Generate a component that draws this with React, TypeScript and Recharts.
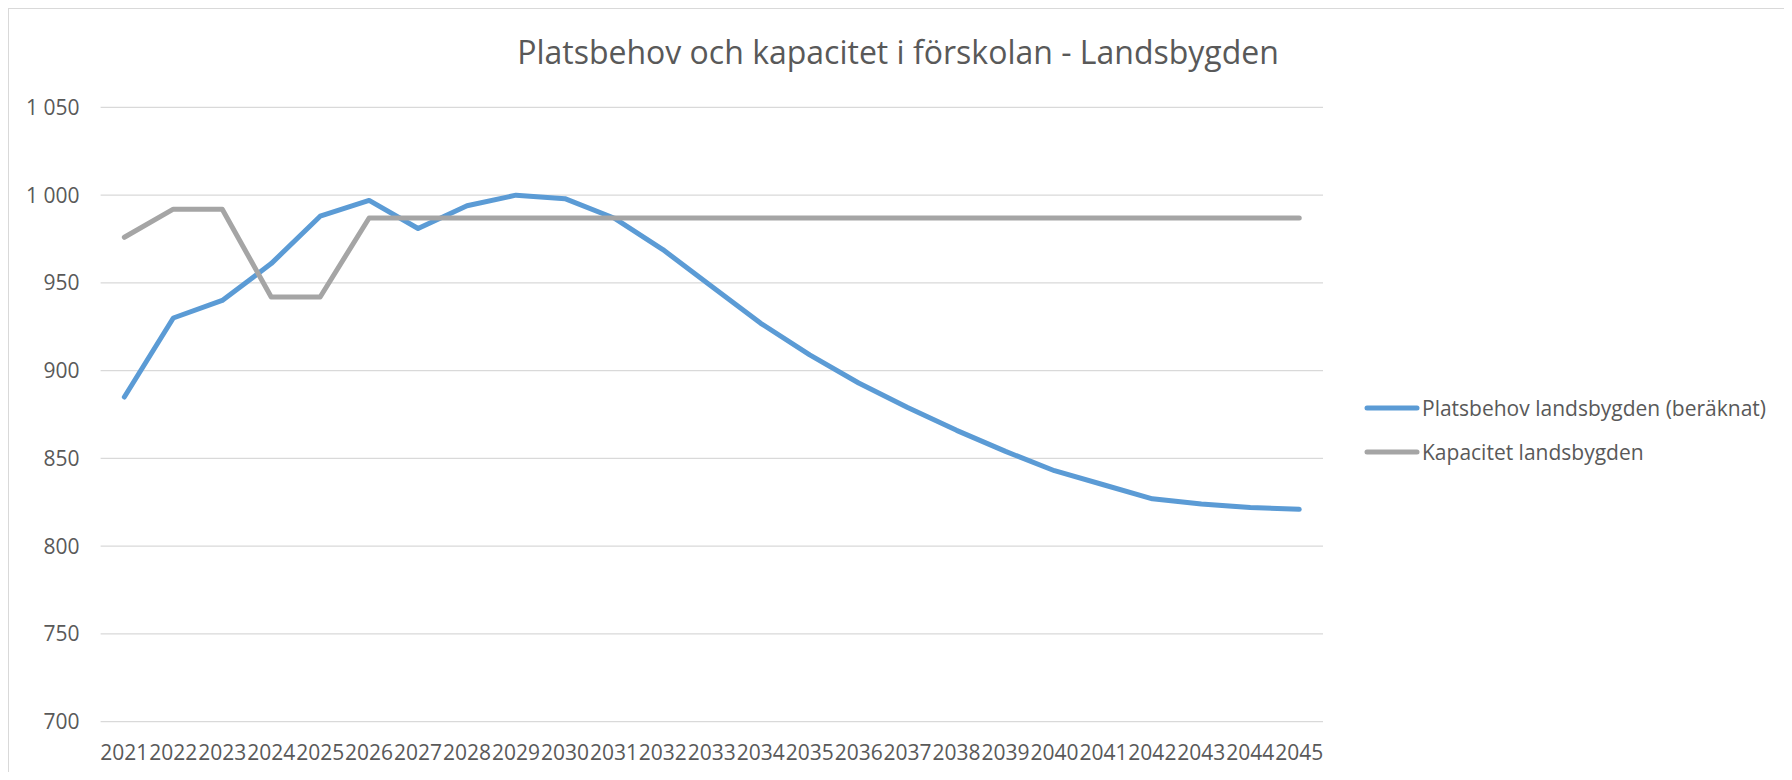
import React from 'react';
import { LineChart, Line, XAxis, YAxis, CartesianGrid, Legend } from 'recharts';

// years on the category axis
const years = [
  '2021', '2022', '2023', '2024', '2025', '2026', '2027', '2028', '2029', '2030',
  '2031', '2032', '2033', '2034', '2035', '2036', '2037', '2038', '2039', '2040',
  '2041', '2042', '2043', '2044', '2045',
];

// Platsbehov landsbygden (beräknat)
const platsbehov = [
  885, 930, 940, 961, 988, 997, 981, 994, 1000, 998,
  987, 969, 948, 927, 909, 893, 879, 866, 854, 843,
  835, 827, 824, 822, 821,
];

// Kapacitet landsbygden
const kapacitet = [
  976, 992, 992, 942, 942, 987, 987, 987, 987, 987,
  987, 987, 987, 987, 987, 987, 987, 987, 987, 987,
  987, 987, 987, 987, 987,
];

const yTicks = [700, 750, 800, 850, 900, 950, 1000, 1050];

const seriesNames = ['Platsbehov landsbygden (beräknat)', 'Kapacitet landsbygden'];

const data = years.map((year, i) => ({
  year,
  platsbehov: platsbehov[i],
  kapacitet: kapacitet[i],
}));

const FONT = "'Open Sans', 'DejaVu Sans', sans-serif";
const TEXT = '#595959';

// swedish style thousands: "1 050"
const formatY = (v: number) =>
  v >= 1000 ? `${Math.floor(v / 1000)} ${String(v % 1000).padStart(3, '0')}` : String(v);

const renderLegend = (props: any) => {
  const items = [...(props.payload || [])].sort(
    (a: any, b: any) => seriesNames.indexOf(a.value) - seriesNames.indexOf(b.value)
  );
  return (
    <div>
      {items.map((item: any) => (
        <div
          key={item.value}
          style={{ display: 'flex', alignItems: 'center', height: 43.4 }}
        >
          <svg width={56} height={10} style={{ marginRight: 2 }}>
            <line
              x1={3}
              y1={5}
              x2={53}
              y2={5}
              stroke={item.color}
              strokeWidth={5}
              strokeLinecap="round"
            />
          </svg>
          <span style={{ fontFamily: FONT, fontSize: 21, color: TEXT, whiteSpace: 'nowrap' }}>
            {item.value}
          </span>
        </div>
      ))}
    </div>
  );
};

export default function App() {
  return (
    <div
      style={{
        position: 'relative',
        width: 1778,
        height: 771,
        borderTop: '1px solid #d9d9d9',
        borderLeft: '1px solid #d9d9d9',
        borderRight: '1px solid #d9d9d9',
        marginBottom: -8,
        background: '#fff',
      }}
    >
      <div
        style={{
          position: 'absolute',
          left: 0,
          right: 0,
          top: 26.6,
          textAlign: 'center',
          fontFamily: FONT,
          fontSize: 32,
          lineHeight: 1,
          color: TEXT,
        }}
      >
        Platsbehov och kapacitet i förskolan - Landsbygden
      </div>
      <LineChart
        width={1778}
        height={771}
        data={data}
        margin={{ top: 98.4, right: 464, bottom: 18.3, left: 0 }}
      >
        <CartesianGrid vertical={false} stroke="#d9d9d9" strokeWidth={1.3} />
        <XAxis
          dataKey="year"
          interval={0}
          axisLine={false}
          tickLine={false}
          height={40}
          tickMargin={17}
          padding={{ left: 23.75, right: 23.75 }}
          tick={{ fontFamily: FONT, fontSize: 21, fill: TEXT }}
        />
        <YAxis
          domain={[700, 1050]}
          ticks={yTicks}
          width={91.6}
          axisLine={false}
          tickLine={false}
          tickMargin={15}
          tickFormatter={formatY}
          tick={{ fontFamily: FONT, fontSize: 21, fill: TEXT }}
        />
        <Legend
          layout="vertical"
          align="center"
          verticalAlign="middle"
          wrapperStyle={{ left: 1355, top: 377.5 }}
          content={renderLegend}
        />
        <Line
          type="linear"
          dataKey="platsbehov"
          name={seriesNames[0]}
          stroke="#5b9bd5"
          strokeWidth={5}
          strokeLinecap="round"
          strokeLinejoin="round"
          dot={false}
          isAnimationActive={false}
        />
        <Line
          type="linear"
          dataKey="kapacitet"
          name={seriesNames[1]}
          stroke="#a5a5a5"
          strokeWidth={5}
          strokeLinecap="round"
          strokeLinejoin="round"
          dot={false}
          isAnimationActive={false}
        />
      </LineChart>
    </div>
  );
}
